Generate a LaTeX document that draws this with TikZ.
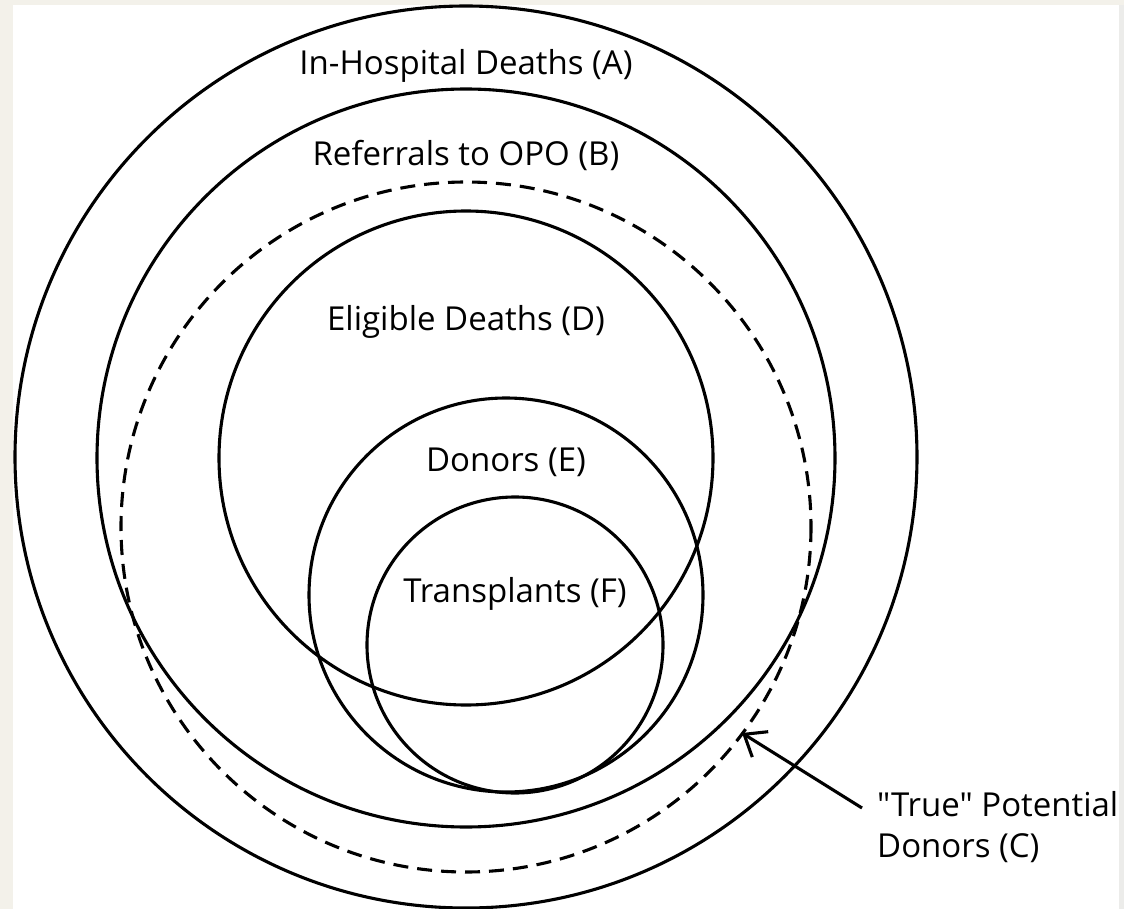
\documentclass[tikz,border=0pt]{standalone}
\usepackage{fontspec}
\setmainfont{Open Sans}[Ligatures=TeXOff]
\usetikzlibrary{arrows.meta}
\definecolor{beige}{HTML}{F3F1EA}
\definecolor{edgegray}{HTML}{ECECEA}
\begin{document}
\begin{tikzpicture}[x=1pt,y=-1pt,
  ring/.style={line width=3.1pt, draw=black},
  dashring/.style={line width=3.1pt, draw=black, dash pattern=on 15pt off 9pt},
  lbl/.style={font=\fontsize{33}{41}\selectfont, inner sep=0pt}]
\useasboundingbox (0,0) rectangle (1124,909);
\fill[beige] (0,0) rectangle (1124,909);
\fill[white] (13,5) rectangle (1119,909);
\fill[edgegray] (1119,5) rectangle (1124,909);
% circles
\coordinate (cA) at (466,457);
\coordinate (cB) at (466,458);
\coordinate (cC) at (466,527);
\coordinate (cD) at (466,458);
\coordinate (cE) at (506,595);
\coordinate (cF) at (515,645);
\draw[ring] (cA) circle[radius=451];
\draw[ring] (cB) circle[radius=369];
\draw[dashring] (cC) circle[radius=345];
\draw[ring] (cD) circle[radius=247];
\draw[ring] (cE) circle[radius=197];
\draw[ring] (cF) circle[radius=148];
% labels
\node[lbl] (la) at (466,66) {In-Hospital Deaths (A)};
\node[lbl] (lb) at (466,155) {Referrals to OPO (B)};
\node[lbl] (ld) at (466,322) {Eligible Deaths (D)};
\node[lbl] (le) at (506,462) {Donors (E)};
\node[lbl] (lf) at (515,594) {Transplants (F)};
\node[lbl, align=left, anchor=west] (lc) at (877,827) {"True" Potential\\Donors (C)};
\coordinate (tip) at (742,733);
\coordinate (tail) at (862,808);
\draw[line width=3.1pt, -{Straight Barb[length=19pt,width=30pt,line width=3.1pt]}] (tail) -- (tip);
\end{tikzpicture}
\end{document}
